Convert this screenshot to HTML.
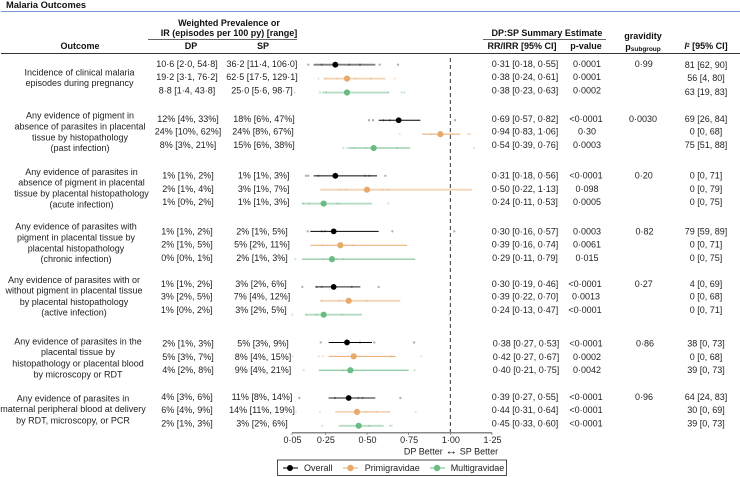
<!DOCTYPE html>
<html lang="en">
<head>
<meta charset="utf-8">
<title>Malaria Outcomes</title>
<style>
html,body{margin:0;padding:0;background:#fff;width:740px;height:477px;overflow:hidden}
svg{display:block}
text{font-family:"Liberation Sans",Arial,sans-serif;font-size:9px;fill:#222}
.c text,text.m{text-anchor:middle}
.b{font-weight:bold;fill:#111}
</style>
</head>
<body>
<svg id="chart" xmlns="http://www.w3.org/2000/svg" width="740" height="477" viewBox="0 0 740 477">
<rect x="0" y="0" width="740" height="477" fill="#fff"/>
<text class="b" x="6" y="8" style="font-size:9.3px">Malaria Outcomes</text>
<line x1="1" x2="740" y1="11.5" y2="11.5" stroke="#7c9cd8" stroke-width="1"/>

<g class="c">
<text class="b" x="229" y="26">Weighted Prevalence or</text>
<text class="b" x="229" y="36">IR (episodes per 100 py) [range]</text>
<text class="b" x="80" y="49">Outcome</text>
<text class="b" x="191" y="49">DP</text>
<text class="b" x="263" y="49">SP</text>
<text class="b" x="547" y="36">DP:SP Summary Estimate</text>
<text class="b" x="522" y="49">RR/IRR [95% CI]</text>
<text class="b" x="586" y="49">p-value</text>
<text class="b" x="643" y="39">gravidity</text>
<text class="b" x="643" y="50">p<tspan font-size="6.5" dy="1">subgroup</tspan></text>
<text class="b" x="706" y="49"><tspan font-style="italic">I</tspan><tspan font-size="5" dy="-2">2</tspan><tspan dy="2"> [95% CI]</tspan></text>
</g>
<line x1="148" x2="297" y1="39.5" y2="39.5" stroke="#333" stroke-width="0.8"/>
<line x1="483" x2="606" y1="39.5" y2="39.5" stroke="#333" stroke-width="0.8"/>
<line x1="1" x2="740" y1="53.5" y2="53.5" stroke="#333" stroke-width="1"/>

<g class="c">
<text x="79.5" y="75.5">Incidence of clinical malaria</text>
<text x="79.5" y="86">episodes during pregnancy</text>
<text x="80" y="118.7">Any evidence of pigment in</text>
<text x="80" y="129.7">absence of parasites in placental</text>
<text x="80" y="140.7">tissue by histopathology</text>
<text x="80" y="151">(past infection)</text>
<text x="81.5" y="175">Any evidence of parasites in</text>
<text x="81.5" y="185.7">absence of pigment in placental</text>
<text x="81.5" y="196.7">tissue by placental histopathology</text>
<text x="81.5" y="207.3">(acute infection)</text>
<text x="76" y="229.7">Any evidence of parasites with</text>
<text x="76" y="240.3">pigment in placental tissue by</text>
<text x="76" y="251.3">placental histopathology</text>
<text x="76" y="262">(chronic infection)</text>
<text x="74" y="283">Any evidence of parasites with or</text>
<text x="74" y="293.7">without pigment in placental tissue</text>
<text x="74" y="305">by placental histopathology</text>
<text x="74" y="315.7">(active infection)</text>
<text x="78" y="344.7">Any evidence of parasites in the</text>
<text x="78" y="355">placental tissue by</text>
<text x="78" y="366.7">histopathology or placental blood</text>
<text x="78" y="377.3">by microscopy or RDT</text>
<text x="73" y="401.7">Any evidence of parasites in</text>
<text x="73" y="412">maternal peripheral blood at delivery</text>
<text x="73" y="423.7">by RDT, microscopy, or PCR</text>
</g>

<g class="c">
<text x="187" y="67">10·6 [2·0, 54·8]</text>
<text x="187" y="80">19·2 [3·1, 76·2]</text>
<text x="187" y="93.7">8·8 [1·4, 43·8]</text>
<text x="188" y="122">12% [4%, 33%]</text>
<text x="188" y="134.7">24% [10%, 62%]</text>
<text x="188" y="148">8% [3%, 21%]</text>
<text x="188" y="178.7">1% [1%, 2%]</text>
<text x="188" y="192">2% [1%, 4%]</text>
<text x="188" y="205">1% [0%, 2%]</text>
<text x="187" y="234.7">1% [1%, 2%]</text>
<text x="187" y="247.7">2% [1%, 5%]</text>
<text x="187" y="261">0% [0%, 1%]</text>
<text x="186.7" y="287">1% [1%, 2%]</text>
<text x="186.7" y="299.7">3% [2%, 5%]</text>
<text x="186.7" y="313">1% [0%, 2%]</text>
<text x="188" y="346.7">2% [1%, 3%]</text>
<text x="188" y="360">5% [3%, 7%]</text>
<text x="188" y="373">4% [2%, 8%]</text>
<text x="187" y="400">4% [3%, 6%]</text>
<text x="187" y="413">6% [4%, 9%]</text>
<text x="187" y="426.7">2% [1%, 3%]</text>
</g>

<g class="c">
<text x="262" y="67">36·2 [11·4, 106·0]</text>
<text x="262" y="80">62·5 [17·5, 129·1]</text>
<text x="262" y="93.7">25·0 [5·6, 98·7]</text>
<text x="264" y="122">18% [6%, 47%]</text>
<text x="263" y="134.7">24% [8%, 67%]</text>
<text x="264" y="148">15% [6%, 38%]</text>
<text x="263.7" y="178.7">1% [1%, 3%]</text>
<text x="263.7" y="192">3% [1%, 7%]</text>
<text x="263.7" y="205">1% [1%, 3%]</text>
<text x="262" y="234.7">2% [1%, 5%]</text>
<text x="262" y="247.7">5% [2%, 11%]</text>
<text x="262" y="261">2% [1%, 3%]</text>
<text x="261" y="287">3% [2%, 6%]</text>
<text x="262" y="299.7">7% [4%, 12%]</text>
<text x="261" y="313">3% [2%, 5%]</text>
<text x="263" y="346.7">5% [3%, 9%]</text>
<text x="263" y="360">8% [4%, 15%]</text>
<text x="263" y="373">9% [4%, 21%]</text>
<text x="262" y="400">11% [8%, 14%]</text>
<text x="262" y="413">14% [11%, 19%]</text>
<text x="262" y="426.7">3% [2%, 6%]</text>
</g>

<g class="c">
<text x="525" y="67">0·31 [0·18, 0·55]</text>
<text x="525" y="80">0·38 [0·24, 0·61]</text>
<text x="525" y="93.7">0·38 [0·23, 0·63]</text>
<text x="525" y="122">0·69 [0·57, 0·82]</text>
<text x="525" y="134.7">0·94 [0·83, 1·06]</text>
<text x="525" y="148">0·54 [0·39, 0·76]</text>
<text x="525" y="178.7">0·31 [0·18, 0·56]</text>
<text x="525" y="192">0·50 [0·22, 1·13]</text>
<text x="525" y="205">0·24 [0·11, 0·53]</text>
<text x="525" y="234.7">0·30 [0·16, 0·57]</text>
<text x="525" y="247.7">0·39 [0·16, 0·74]</text>
<text x="525" y="261">0·29 [0·11, 0·79]</text>
<text x="525" y="287">0·30 [0·19, 0·46]</text>
<text x="525" y="299.7">0·39 [0·22, 0·70]</text>
<text x="525" y="313">0·24 [0·13, 0·47]</text>
<text x="526" y="346.7">0·38 [0·27, 0·53]</text>
<text x="526" y="360">0·42 [0·27, 0·67]</text>
<text x="526" y="373">0·40 [0·21, 0·75]</text>
<text x="525" y="400">0·39 [0·27, 0·55]</text>
<text x="525" y="413">0·44 [0·31, 0·64]</text>
<text x="525" y="426.7">0·45 [0·33, 0·60]</text>
</g>

<g class="c">
<text x="587" y="67">0·0001</text>
<text x="587" y="80">0·0001</text>
<text x="587" y="93.7">0·0002</text>
<text x="586" y="122">&lt;0·0001</text>
<text x="587" y="134.7">0·30</text>
<text x="587" y="148">0·0003</text>
<text x="586" y="178.7">&lt;0·0001</text>
<text x="587" y="192">0·098</text>
<text x="587" y="205">0·0005</text>
<text x="587" y="234.7">0·0003</text>
<text x="587" y="247.7">0·0061</text>
<text x="587" y="261">0·015</text>
<text x="585" y="287">&lt;0·0001</text>
<text x="586" y="299.7">0·0013</text>
<text x="585" y="313">&lt;0·0001</text>
<text x="586" y="346.7">&lt;0·0001</text>
<text x="587" y="360">0·0002</text>
<text x="587" y="373">0·0042</text>
<text x="586" y="400">&lt;0·0001</text>
<text x="586" y="413">&lt;0·0001</text>
<text x="586" y="426.7">&lt;0·0001</text>
</g>

<g class="c">
<text x="643.7" y="67">0·99</text>
<text x="643" y="122">0·0030</text>
<text x="643.7" y="178.7">0·20</text>
<text x="644.5" y="234.7">0·82</text>
<text x="643.7" y="287">0·27</text>
<text x="645" y="346.7">0·86</text>
<text x="644" y="400">0·96</text>
</g>

<g class="c">
<text x="706" y="68">81 [62, 90]</text>
<text x="706" y="81">56 [4, 80]</text>
<text x="706" y="95">63 [19, 83]</text>
<text x="706" y="122">69 [26, 84]</text>
<text x="706" y="134.7">0 [0, 68]</text>
<text x="706" y="148">75 [51, 88]</text>
<text x="706" y="178.7">0 [0, 71]</text>
<text x="706" y="192">0 [0, 79]</text>
<text x="706" y="205">0 [0, 75]</text>
<text x="706" y="234.7">79 [59, 89]</text>
<text x="706" y="247.7">0 [0, 71]</text>
<text x="706" y="261">0 [0, 75]</text>
<text x="706" y="287">4 [0, 69]</text>
<text x="706" y="299.7">0 [0, 68]</text>
<text x="706" y="313">0 [0, 71]</text>
<text x="706" y="346.7">38 [0, 73]</text>
<text x="706" y="360">0 [0, 68]</text>
<text x="706" y="373">39 [0, 73]</text>
<text x="706" y="400">64 [24, 83]</text>
<text x="706" y="413">30 [0, 69]</text>
<text x="706" y="426.7">39 [0, 73]</text>
</g>

<g id="plot"></g>

<text class="m" x="451" y="454.7">DP Better <tspan style="font-size:12px">↔</tspan> SP Better</text>

<g>
<rect x="277.5" y="460" width="229" height="15.5" fill="#fff" stroke="#222" stroke-width="0.8"/>
<g>
<line x1="283" x2="298" y1="468" y2="468" stroke="#000" stroke-width="1"/>
<circle cx="290" cy="468" r="3" fill="#000"/>
<text x="304" y="471">Overall</text>
</g>
<g>
<line x1="343" x2="358" y1="468" y2="468" stroke="#e8a96c" stroke-width="1"/>
<circle cx="350.5" cy="468" r="3.2" fill="#e8a96c"/>
<text x="364.7" y="471">Primigravidae</text>
</g>
<g>
<line x1="430" x2="445" y1="468" y2="468" stroke="#6cbb85" stroke-width="1"/>
<circle cx="437" cy="468" r="3.2" fill="#6cbb85"/>
<text x="450.7" y="471">Multigravidae</text>
</g>
</g>
</svg>

<script>
var tickValues = [0.05, 0.25, 0.5, 0.75, 1, 1.25];
var tickLabels = ['0·05', '0·25', '0·50', '0·75', '1·00', '1·25'];
var referenceValue = 1;

var overallEstimate = [0.31, 0.69, 0.31, 0.30, 0.30, 0.38, 0.39];
var overallLower = [0.18, 0.57, 0.18, 0.16, 0.19, 0.27, 0.27];
var overallUpper = [0.55, 0.82, 0.56, 0.57, 0.46, 0.53, 0.55];
var overallStudies = [
  [0.148, 0.228, 0.394, 0.458, 0.576, 0.686],
  [0.512, 0.536, 0.598, 0.638, 1.028],
  [0.134, 0.148, 0.208, 0.488, 0.514, 0.61],
  [0.144, 0.228, 0.248, 0.652, 1.024],
  [0.112, 0.198, 0.228, 0.408, 0.57],
  [0.222, 0.458, 0.544, 0.782],
  [0.094, 0.308, 0.448, 0.474, 0.7]
];

var primiEstimate = [0.38, 0.94, 0.50, 0.34, 0.39, 0.42, 0.44];
var primiLower = [0.24, 0.83, 0.22, 0.16, 0.22, 0.27, 0.31];
var primiUpper = [0.61, 1.06, 1.13, 0.74, 0.70, 0.67, 0.64];
var primiStudies = [
  [0.208, 0.254, 0.318, 0.43, 0.522, 0.666],
  [0.696, 0.884, 1.0, 1.108, 1.118],
  [0.334, 0.374, 0.594, 0.624],
  [0.232, 0.372, 0.414, 1.004],
  [0.228, 0.334, 0.498, 1.004],
  [0.054, 0.212, 0.234, 0.644, 0.826],
  [0.074, 0.218, 0.494, 0.558, 0.792]
];

var multiEstimate = [0.38, 0.54, 0.24, 0.29, 0.24, 0.40, 0.45];
var multiLower = [0.23, 0.39, 0.11, 0.11, 0.13, 0.21, 0.33];
var multiUpper = [0.63, 0.76, 0.53, 0.79, 0.47, 0.75, 0.60];
var multiStudies = [
  [0.066, 0.218, 0.254, 0.628, 0.708, 0.724],
  [0.358, 0.382, 0.422, 0.494, 0.682, 1.142],
  [0.114, 0.154, 0.318, 0.334, 0.628],
  [0.07, 0.238, 0.318, 0.358],
  [0.052, 0.134, 0.198, 0.348, 0.994],
  [0.12, 0.358, 0.786],
  [0.232, 0.514, 0.638, 0.648]
];

var NS = 'http://www.w3.org/2000/svg';
var plot = document.getElementById('plot');

function xScale(v) { return 292 + (v - 0.05) * 166.67; }
function yScale(group, seriesIndex) { return 64.7 + group * 55.55 + seriesIndex * 13.9; }

function add(tag, attrs) {
  var el = document.createElementNS(NS, tag);
  for (var k in attrs) { el.setAttribute(k, attrs[k]); }
  plot.appendChild(el);
  return el;
}

var axisLine = add('line', { x1: xScale(0.05), x2: xScale(1.25), y1: 432.7, y2: 432.7, stroke: '#888', 'stroke-width': 1.5 });



tickValues.forEach(function (v, i) {
  var tick = add('line', { x1: xScale(v), x2: xScale(v), y1: 432.7, y2: 435, stroke: '#666', 'stroke-width': 0.7 });
  
  
  var label = add('text', { x: xScale(v) + 0.5, y: 443.2, 'text-anchor': 'middle' });
  label.textContent = tickLabels[i];
  
  
});

var refLine = add('line', { x1: xScale(referenceValue), x2: xScale(referenceValue), y1: 58, y2: 432, stroke: '#333', 'stroke-width': 1, 'stroke-dasharray': '4 3' });



/* line rendering per group: [stroke width, opacity] */
var STYLE_THIN = [1, 1];
var STYLE_MID = [1.3, 0.7];
var STYLE_THICK = [1.8, 0.5];

function drawSeries(name, index, color, estimate, lower, upper, studies, styles, radius) {
  estimate.forEach(function (est, g) {
    var y = yScale(g, index);
    var st = styles[g];
    var ci = add('line', { x1: xScale(lower[g]), x2: xScale(upper[g]), y1: y, y2: y, stroke: color, 'stroke-width': st[0], 'stroke-opacity': st[1] });
    
    
    studies[g].forEach(function (s) {
      var p = add('circle', { cx: xScale(s), cy: y, r: 1.2, fill: color, 'fill-opacity': index === 0 ? 0.3 : 0.32 });
      
      
    });
    var dot = add('circle', { cx: xScale(est), cy: y, r: radius, fill: color });
    
    
  });
}

drawSeries('overall', 0, '#000000', overallEstimate, overallLower, overallUpper, overallStudies,
  [STYLE_THICK, STYLE_THIN, STYLE_MID, STYLE_THIN, STYLE_MID, STYLE_THIN, STYLE_MID], 2.9);
drawSeries('primigravidae', 1, '#e8a96c', primiEstimate, primiLower, primiUpper, primiStudies,
  [STYLE_THICK, STYLE_THIN, STYLE_THICK, STYLE_THIN, STYLE_THICK, STYLE_THIN, STYLE_THICK], 3.1);
drawSeries('multigravidae', 2, '#6cbb85', multiEstimate, multiLower, multiUpper, multiStudies,
  [STYLE_THICK, STYLE_THIN, STYLE_THICK, STYLE_THIN, STYLE_THICK, STYLE_THIN, STYLE_THICK], 3.1);
</script>
</body>
</html>
